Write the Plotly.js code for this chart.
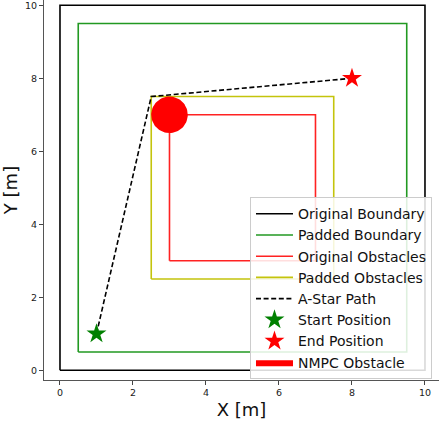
<!DOCTYPE html>
<html>
<head>
<meta charset="utf-8">
<script src="https://cdn.plot.ly/plotly-3.0.1.min.js"></script>
<style>html,body{margin:0;padding:0;background:#fff;}#chart{width:439px;height:425px;}</style>
</head>
<body>
<div id="chart"></div>
<script>
// Data
const boundaryX = [0, 10, 10, 0, 0];
const boundaryY = [0, 0, 10, 10, 0];
const paddedBoundaryX = [0.5, 9.5, 9.5, 0.5, 0.5];
const paddedBoundaryY = [0.5, 0.5, 9.5, 9.5, 0.5];
const obstacleX = [3, 7, 7, 3, 3];
const obstacleY = [3, 3, 7, 7, 3];
const paddedObstacleX = [2.5, 7.5, 7.5, 2.5, 2.5];
const paddedObstacleY = [2.5, 2.5, 7.5, 7.5, 2.5];
const pathX = [1, 2.5, 8];
const pathY = [1, 7.5, 8];
const startPos = [1, 1];
const endPos = [8, 8];
const nmpcCenter = [3, 7];
const nmpcRadius = 0.5;
const tickVals = [0, 2, 4, 6, 8, 10];

// circle outline from center and radius
const circX = [], circY = [];
for (let i = 0; i <= 72; i++) {
  const a = 2 * Math.PI * i / 72;
  circX.push(nmpcCenter[0] + nmpcRadius * Math.cos(a));
  circY.push(nmpcCenter[1] + nmpcRadius * Math.sin(a));
}

const lw = 1.6;
const traces = [
  {x: boundaryX, y: boundaryY, mode: 'lines', name: 'Original Boundary', line: {color: '#000000', width: lw}},
  {x: paddedBoundaryX, y: paddedBoundaryY, mode: 'lines', name: 'Padded Boundary', line: {color: '#229922', width: lw}},
  {x: obstacleX, y: obstacleY, mode: 'lines', name: 'Original Obstacles', line: {color: '#ff2222', width: lw}},
  {x: paddedObstacleX, y: paddedObstacleY, mode: 'lines', name: 'Padded Obstacles', line: {color: '#c4c40c', width: lw}},
  {x: pathX, y: pathY, mode: 'lines', name: 'A-Star Path', line: {color: '#000000', width: lw, dash: '5px,2.6px'}},
  {x: [startPos[0]], y: [startPos[1]], mode: 'markers', name: 'Start Position', marker: {symbol: 'star', size: 15, color: '#008000', line: {width: 0}}},
  {x: [endPos[0]], y: [endPos[1]], mode: 'markers', name: 'End Position', marker: {symbol: 'star', size: 15, color: '#ff0000', line: {width: 0}}},
  {x: circX, y: circY, mode: 'lines', fill: 'toself', fillcolor: '#ff0000', name: 'NMPC Obstacle', line: {color: '#ff0000', width: 0}}
];

const axisCommon = {
  tickvals: tickVals,
  ticks: 'outside',
  ticklen: 4,
  tickwidth: 1,
  tickcolor: '#444',
  showline: true,
  linecolor: '#555',
  linewidth: 1,
  mirror: false,
  showgrid: false,
  zeroline: false,
  ticklabeloverflow: 'allow',
  tickfont: {family: 'DejaVu Sans', size: 9.5, color: '#1a1a1a'}
};

const layout = {
  width: 439,
  height: 425,
  margin: {l: 44, r: 0, t: 0, b: 45},
  paper_bgcolor: '#ffffff',
  plot_bgcolor: '#ffffff',
  font: {family: 'DejaVu Sans', color: '#000'},
  xaxis: Object.assign({}, axisCommon, {
    range: [-0.438, 10.384],
    title: {text: 'X [m]', font: {family: 'DejaVu Sans', size: 18, color: '#111'}, standoff: 5}
  }),
  yaxis: Object.assign({}, axisCommon, {
    range: [-0.266, 10.145],
    title: {text: 'Y [m]', font: {family: 'DejaVu Sans', size: 18, color: '#111'}, standoff: 6}
  }),
  showlegend: true,
  legend: {
    x: 0.5215, y: 0.481, xanchor: 'left', yanchor: 'top',
    bgcolor: 'rgba(255,255,255,0.85)',
    bordercolor: '#cccccc', borderwidth: 1,
    font: {family: 'DejaVu Sans', size: 14, color: '#111'},
    itemwidth: 37,
    tracegroupgap: 0
  }
};

Plotly.newPlot('chart', traces, layout, {displayModeBar: false, staticPlot: true});
</script>
</body>
</html>
